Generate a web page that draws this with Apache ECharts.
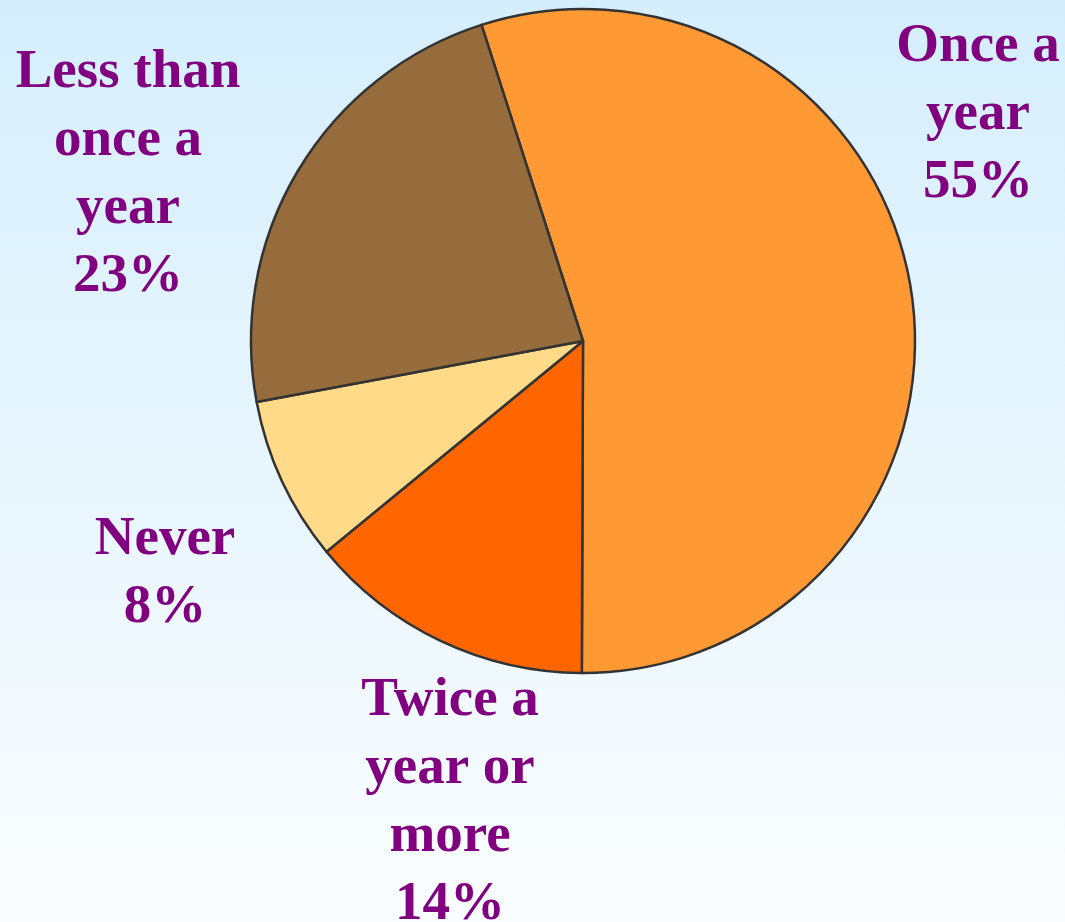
<!DOCTYPE html>
<html>
<head>
<meta charset="utf-8">
<script src="https://cdn.jsdelivr.net/npm/echarts@6/dist/echarts.min.js"></script>
<style>
  html, body { margin: 0; padding: 0; }
  #chart { width: 1065px; height: 922px; }
</style>
</head>
<body>
<div id="chart"></div>
<script>
// Survey answers, in clockwise order from the top
const categories = ['Once a\nyear', 'Twice a\nyear or\nmore', 'Never', 'Less than\nonce a\nyear'];
const shares = [55, 14, 8, 23];
const sliceColors = ['#FF9933', '#FF6600', '#FFDB89', '#966C3C'];
// Label block centres (pixels)
const labelCenters = [[978, 115], [450, 803], [165, 574], [128, 175]];

const chart = echarts.init(document.getElementById('chart'), null, { renderer: 'canvas' });

chart.setOption({
  backgroundColor: {
    type: 'linear', x: 0, y: 0, x2: 0, y2: 1,
    colorStops: [
      { offset: 0, color: '#D5EEFC' },
      { offset: 1, color: '#FAFDFF' }
    ]
  },
  animation: false,
  series: [{
    type: 'pie',
    center: [583, 341],
    radius: 332,
    startAngle: 107.8,
    clockwise: true,
    data: categories.map((name, i) => ({
      name: name,
      value: shares[i],
      itemStyle: { color: sliceColors[i] }
    })),
    itemStyle: { borderColor: '#333333', borderWidth: 2.5 },
    emphasis: { disabled: true },
    label: {
      show: true,
      position: 'outside',
      formatter: '{b}\n{c}%',
      fontFamily: '"Liberation Serif", "Times New Roman", serif',
      fontWeight: 'bold',
      fontSize: 55,
      lineHeight: 68,
      color: '#800080',
      align: 'center',
      overflow: 'none',
      width: 400
    },
    labelLine: { show: false },
    labelLayout: function (params) {
      const p = labelCenters[params.dataIndex];
      return { x: p[0], y: p[1], align: 'center', verticalAlign: 'middle' };
    }
  }]
});
</script>
</body>
</html>
